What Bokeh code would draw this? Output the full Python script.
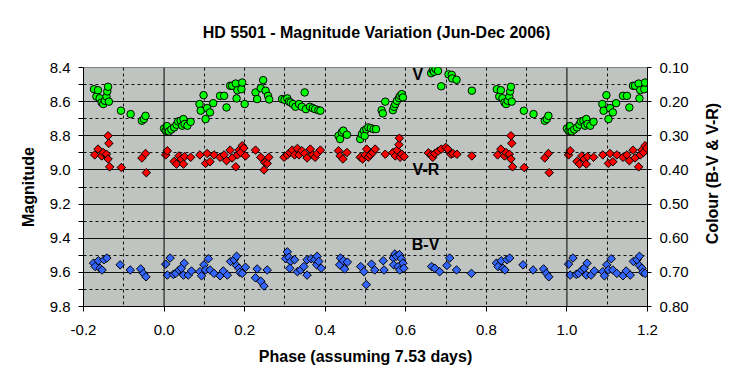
import numpy as np
from bokeh.plotting import figure
from bokeh.layouts import column, row
from bokeh.models import Range1d, LinearAxis, FixedTicker, PrintfTickFormatter, Span, Label
from bokeh.embed import file_html
from bokeh.resources import INLINE

# ---------------- data (phase in [0,1), values read from the chart) ----------------
v_phase = [0.000, 0.004, 0.007, 0.012, 0.018, 0.025, 0.031, 0.035, 0.041, 0.045, 0.048, 0.051,
           0.058, 0.066, 0.088, 0.091, 0.098, 0.103, 0.107, 0.114, 0.122, 0.139, 0.149, 0.155,
           0.164, 0.169, 0.178, 0.180, 0.182, 0.192, 0.194, 0.200, 0.227, 0.231, 0.240, 0.246,
           0.252, 0.258, 0.261, 0.293, 0.299, 0.306, 0.310, 0.314, 0.320, 0.326, 0.335, 0.342,
           0.349, 0.352, 0.362, 0.369, 0.375, 0.383, 0.388, 0.433, 0.437, 0.441, 0.445, 0.454,
           0.487, 0.491, 0.496, 0.498, 0.502, 0.507, 0.513, 0.520, 0.526, 0.540, 0.543, 0.549,
           0.568, 0.571, 0.574, 0.578, 0.583, 0.586, 0.590, 0.593, 0.663, 0.667, 0.670, 0.674,
           0.680, 0.688, 0.706, 0.714, 0.715, 0.726, 0.764, 0.826, 0.832, 0.836, 0.840, 0.845,
           0.849, 0.853, 0.857, 0.859, 0.861, 0.863, 0.893, 0.917, 0.945, 0.950, 0.954]
v_mag = [8.757, 8.770, 8.743, 8.774, 8.763, 8.751, 8.735, 8.716, 8.712, 8.741, 8.702, 8.731,
         8.741, 8.718, 8.614, 8.653, 8.562, 8.702, 8.638, 8.663, 8.609, 8.566, 8.566, 8.634,
         8.507, 8.507, 8.494, 8.581, 8.533, 8.527, 8.488, 8.614, 8.546, 8.585, 8.521, 8.474,
         8.536, 8.566, 8.587, 8.585, 8.589, 8.581, 8.599, 8.605, 8.614, 8.630, 8.614, 8.630,
         8.546, 8.644, 8.630, 8.638, 8.644, 8.650, 8.653, 8.800, 8.819, 8.780, 8.770, 8.794,
         8.819, 8.790, 8.770, 8.800, 8.761, 8.751, 8.755, 8.761, 8.761, 8.650, 8.669, 8.600,
         8.650, 8.630, 8.614, 8.595, 8.579, 8.566, 8.556, 8.575, 8.433, 8.415, 8.425, 8.409,
         8.420, 8.510, 8.440, 8.443, 8.464, 8.472, 8.536, 8.527, 8.570, 8.533, 8.580, 8.605,
         8.614, 8.595, 8.570, 8.540, 8.513, 8.600, 8.653, 8.673, 8.712, 8.702, 8.683]

vr_phase = [0.004, 0.008, 0.025, 0.031, 0.037, 0.043, 0.048, 0.051, 0.066, 0.089, 0.103, 0.107,
            0.114, 0.124, 0.139, 0.149, 0.155, 0.164, 0.169, 0.178, 0.182, 0.186, 0.190, 0.194,
            0.198, 0.202, 0.227, 0.240, 0.248, 0.250, 0.256, 0.260, 0.298, 0.306, 0.312, 0.318,
            0.324, 0.331, 0.335, 0.342, 0.349, 0.355, 0.363, 0.369, 0.375, 0.380, 0.388, 0.433,
            0.437, 0.444, 0.454, 0.487, 0.493, 0.499, 0.503, 0.507, 0.512, 0.518, 0.524, 0.549,
            0.568, 0.574, 0.578, 0.583, 0.584, 0.586, 0.590, 0.596, 0.656, 0.663, 0.667, 0.672,
            0.680, 0.688, 0.699, 0.704, 0.712, 0.717, 0.727, 0.764, 0.828, 0.836, 0.845, 0.849,
            0.857, 0.861, 0.861, 0.863, 0.865, 0.894, 0.945, 0.954, 0.956]
vr_col = [0.356, 0.344, 0.375, 0.383, 0.359, 0.368, 0.383, 0.361, 0.363, 0.356, 0.381, 0.352,
          0.376, 0.356, 0.363, 0.356, 0.373, 0.342, 0.365, 0.391, 0.356, 0.342, 0.349, 0.329,
          0.336, 0.359, 0.342, 0.363, 0.400, 0.378, 0.381, 0.363, 0.363, 0.356, 0.349, 0.342,
          0.356, 0.337, 0.356, 0.344, 0.352, 0.365, 0.339, 0.356, 0.363, 0.352, 0.342, 0.344,
          0.359, 0.368, 0.349, 0.363, 0.368, 0.356, 0.339, 0.363, 0.356, 0.349, 0.339, 0.354,
          0.349, 0.359, 0.342, 0.326, 0.307, 0.363, 0.354, 0.361, 0.350, 0.356, 0.363, 0.352,
          0.345, 0.339, 0.334, 0.339, 0.354, 0.352, 0.354, 0.359, 0.356, 0.339, 0.359, 0.349,
          0.354, 0.368, 0.300, 0.322, 0.391, 0.393, 0.365, 0.352, 0.408]

bv_phase = [0.004, 0.008, 0.015, 0.023, 0.029, 0.037, 0.043, 0.048, 0.050, 0.060, 0.068, 0.089,
            0.093, 0.099, 0.103, 0.110, 0.114, 0.124, 0.139, 0.147, 0.157, 0.165, 0.174, 0.180,
            0.180, 0.186, 0.188, 0.194, 0.202, 0.227, 0.231, 0.240, 0.248, 0.256, 0.302, 0.306,
            0.310, 0.314, 0.312, 0.324, 0.331, 0.339, 0.347, 0.355, 0.355, 0.365, 0.374, 0.379,
            0.380, 0.384, 0.390, 0.436, 0.438, 0.445, 0.448, 0.455, 0.488, 0.496, 0.502, 0.515,
            0.523, 0.544, 0.546, 0.569, 0.570, 0.573, 0.577, 0.581, 0.584, 0.585, 0.589, 0.593,
            0.595, 0.664, 0.672, 0.684, 0.702, 0.709, 0.726, 0.763, 0.825, 0.829, 0.837, 0.841,
            0.846, 0.851, 0.858, 0.891, 0.916, 0.942, 0.949, 0.955]
bv_col = [0.676, 0.708, 0.658, 0.706, 0.703, 0.693, 0.688, 0.708, 0.673, 0.708, 0.696, 0.698,
          0.710, 0.678, 0.693, 0.660, 0.693, 0.703, 0.710, 0.696, 0.708, 0.668, 0.663, 0.653,
          0.680, 0.688, 0.700, 0.703, 0.685, 0.716, 0.690, 0.726, 0.740, 0.693, 0.660, 0.640,
          0.656, 0.668, 0.688, 0.663, 0.698, 0.693, 0.683, 0.708, 0.663, 0.660, 0.663, 0.678,
          0.653, 0.668, 0.688, 0.678, 0.658, 0.666, 0.690, 0.670, 0.683, 0.698, 0.736, 0.676,
          0.693, 0.666, 0.693, 0.658, 0.678, 0.646, 0.653, 0.683, 0.648, 0.693, 0.660, 0.673,
          0.688, 0.683, 0.688, 0.698, 0.680, 0.658, 0.693, 0.703, 0.673, 0.683, 0.666, 0.688,
          0.693, 0.663, 0.658, 0.678, 0.693, 0.690, 0.703, 0.713]

x_ticks = [-0.2, 0.0, 0.2, 0.4, 0.6, 0.8, 1.0, 1.2]
x_grid = [-0.1, 0.1, 0.2, 0.3, 0.4, 0.5, 0.6, 0.7, 0.8, 0.9, 1.1]
mag_ticks = [8.4, 8.6, 8.8, 9.0, 9.2, 9.4, 9.6, 9.8]
mag_minor = [8.5, 8.7, 8.9, 9.1, 9.3, 9.5, 9.7]
col_ticks = [0.10, 0.20, 0.30, 0.40, 0.50, 0.60, 0.70, 0.80]

TITLE = "HD 5501 - Magnitude Variation (Jun-Dec 2006)"
X_LABEL = "Phase (assuming 7.53 days)"
Y_LABEL = "Magnitude"
Y2_LABEL = "Colour (B-V & V-R)"


def wrap(ph, val):
    ph = np.asarray(ph, dtype=float)
    val = np.asarray(val, dtype=float)
    lo = ph >= 0.8
    hi = ph < 0.2
    return (np.concatenate([ph[lo] - 1.0, ph, ph[hi] + 1.0]),
            np.concatenate([val[lo], val, val[hi]]))


vx, vy = wrap(v_phase, v_mag)
rx, ry = wrap(vr_phase, vr_col)
bx, by = wrap(bv_phase, bv_col)

FONT = "Liberation Sans"
TOP_H = 40
MAIN_W, MAIN_H = 692, 328
SIDE_W = 40


def blank(w, h):
    f = figure(width=w, height=h, x_range=Range1d(0, w), y_range=Range1d(0, h),
               output_backend="svg", toolbar_location=None, x_axis_type=None, y_axis_type=None,
               min_border=0, background_fill_color="white", border_fill_color="white")
    f.outline_line_color = None
    f.grid.visible = False
    return f


# title strip
tf = blank(MAIN_W + SIDE_W, TOP_H)
tf.add_layout(Label(x=376, y=7.7, text=TITLE, text_font=FONT, text_font_size="16px",
                    text_font_style="bold", text_color="black", text_align="center",
                    text_baseline="alphabetic"))

# main plot
p = figure(width=MAIN_W, height=MAIN_H, x_range=Range1d(-0.2, 1.2), y_range=Range1d(9.8, 8.4),
           output_backend="svg", toolbar_location=None,
           min_border_left=83, min_border_right=45, min_border_top=27, min_border_bottom=62,
           background_fill_color="#c0c4c0", border_fill_color="white")
p.extra_y_ranges = {"colour": Range1d(0.80, 0.10)}
p.outline_line_color = "#808080"
p.outline_line_width = 1

xa = p.xaxis[0]
xa.ticker = FixedTicker(ticks=x_ticks)
xa.formatter = PrintfTickFormatter(format="%.1f")
xa.axis_label = X_LABEL
xa.major_tick_out = 5
xa.major_tick_in = 0
xa.minor_tick_out = 0
xa.minor_tick_in = 0
xa.major_label_standoff = 13
xa.axis_label_standoff = 10

ya = p.yaxis[0]
ya.ticker = FixedTicker(ticks=mag_ticks, minor_ticks=mag_minor)
ya.formatter = PrintfTickFormatter(format="%.1f")
ya.axis_label = Y_LABEL
ya.major_tick_out = 5
ya.major_tick_in = 0
ya.minor_tick_out = 5
ya.minor_tick_in = 0
ya.major_label_standoff = 8
ya.axis_label_standoff = 10

ra = LinearAxis(y_range_name="colour", ticker=FixedTicker(ticks=col_ticks),
                formatter=PrintfTickFormatter(format="%.2f"))
ra.major_tick_out = 4
ra.major_tick_in = 0
ra.minor_tick_out = 0
ra.minor_tick_in = 0
ra.major_label_standoff = 8
p.add_layout(ra, "right")

for ax in (xa, ya, ra):
    ax.axis_line_color = "black"
    ax.major_tick_line_color = "black"
    ax.minor_tick_line_color = "black"
    ax.major_label_text_font = FONT
    ax.major_label_text_font_size = "15px"
    ax.major_label_text_color = "black"
    ax.axis_label_text_font = FONT
    ax.axis_label_text_font_size = "16px"
    ax.axis_label_text_font_style = "bold"
    ax.axis_label_text_color = "black"

p.xgrid.ticker = FixedTicker(ticks=x_grid)
p.xgrid.grid_line_color = "#111111"
p.xgrid.grid_line_dash = "3 3"
p.xgrid.grid_line_width = 1
p.ygrid.ticker = FixedTicker(ticks=mag_ticks[1:-1], minor_ticks=mag_minor)
p.ygrid.grid_line_color = "#111111"
p.ygrid.grid_line_width = 1
p.ygrid.minor_grid_line_color = "#111111"
p.ygrid.minor_grid_line_dash = "3 3"

for loc in (0.0, 1.0):
    p.add_layout(Span(location=loc, dimension="height", line_color="black", line_width=1))

p.scatter(vx, vy, marker="circle", size=7.5, fill_color="#00ff00", line_color="black", line_width=1)
p.scatter(rx, ry, marker="square", angle=np.pi / 4, size=6, fill_color="#ff0000",
          line_color="black", line_width=1, y_range_name="colour")
p.scatter(bx, by, marker="square", angle=np.pi / 4, size=6, fill_color="#3366ff",
          line_color="black", line_width=1, y_range_name="colour")


def lab(x, y, t, **kw):
    p.add_layout(Label(x=x, y=y, text=t, text_font=FONT, text_font_size="16px",
                       text_font_style="bold", text_color="black", text_align="center",
                       text_baseline="middle", **kw))


lab(0.630, 8.440, "V")
lab(0.650, 0.399, "V-R", y_range_name="colour")
lab(0.649, 0.619, "B-V", y_range_name="colour")

# right-hand axis title strip (text reads bottom-to-top)
sf = blank(SIDE_W, MAIN_H)
sf.add_layout(Label(x=20.3, y=182.5, text=Y2_LABEL, angle=np.pi / 2, text_font=FONT,
                    text_font_size="16px", text_font_style="bold", text_color="black",
                    text_align="center", text_baseline="alphabetic"))

layout = column(tf, row(p, sf, spacing=0), spacing=0)
open("out.html", "w").write(file_html(layout, INLINE))
